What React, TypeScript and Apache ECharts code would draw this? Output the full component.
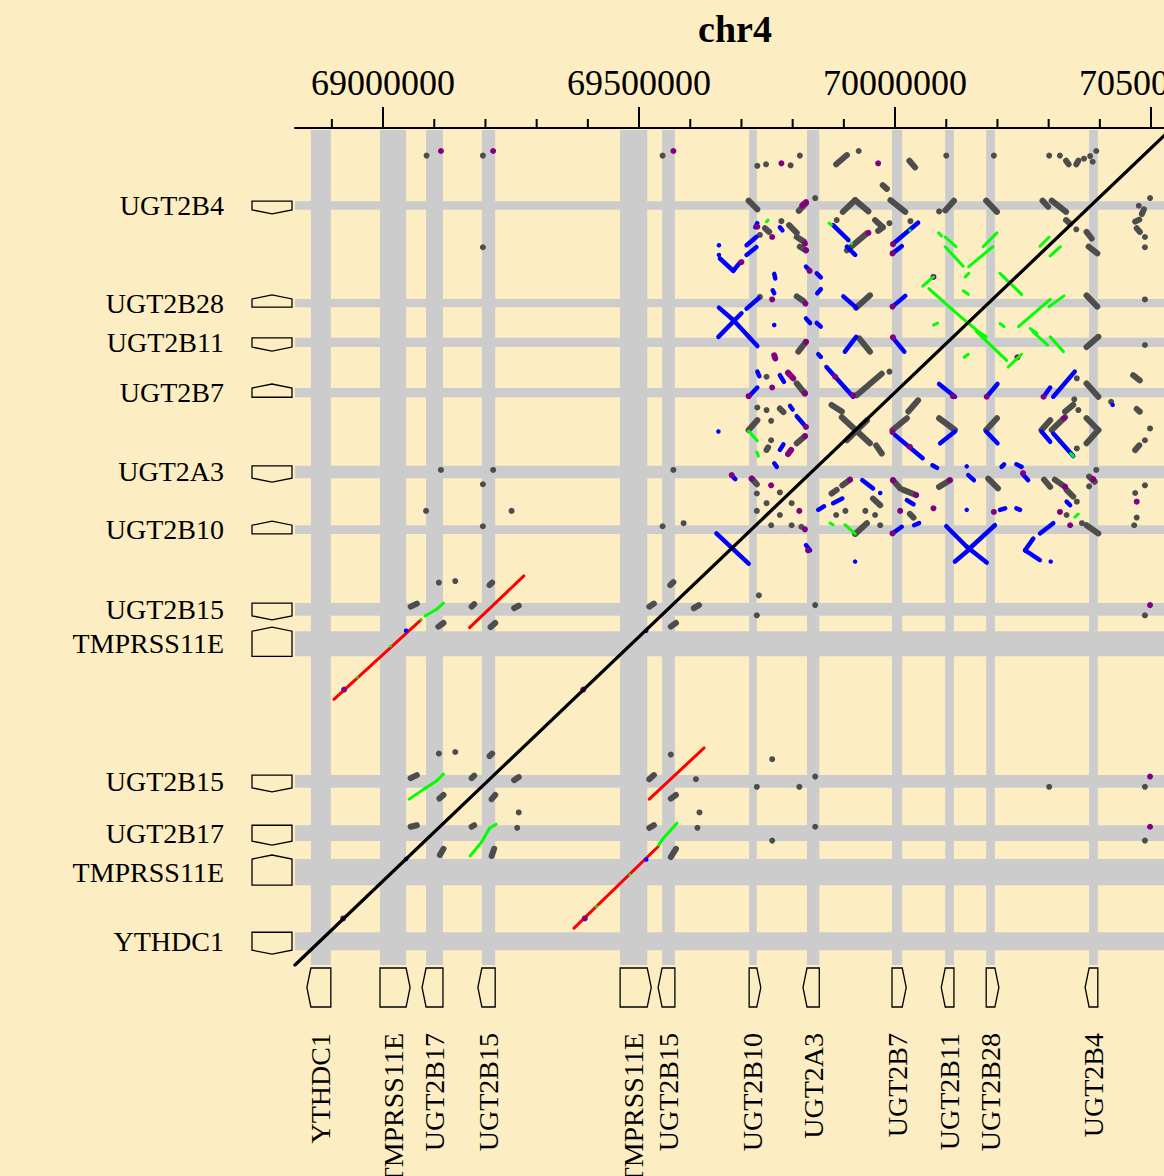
import React, { useEffect, useRef } from "react";
import * as echarts from "echarts";

// ---- axis ranges (kb) ----
const X_MIN = 68828; // chr4 position, kb
const X_MAX = 70537;
const Y_MIN = 0; // query position, kb
const Y_MAX = 1631;

const majorTicks = [69000, 69500, 70000, 70500];
const minorTicks = [68900, 69100, 69200, 69300, 69400, 69600, 69700, 69800, 69900, 70100, 70200, 70300, 70400];

// ---- genes on chr4 (x): name, start kb, end kb, strand ----
const xGenes: [string, number, number, string][] = [
  ["YTHDC1", 68859, 68898, "-"],
  ["TMPRSS11E", 68994, 69045, "+"],
  ["UGT2B17", 69084, 69117, "-"],
  ["UGT2B15", 69193, 69219, "-"],
  ["TMPRSS11E", 69463, 69516, "+"],
  ["UGT2B15", 69545, 69570, "-"],
  ["UGT2B10", 69715, 69730, "+"],
  ["UGT2A3", 69828, 69852, "-"],
  ["UGT2B7", 69994, 70014, "+"],
  ["UGT2B11", 70098, 70115, "-"],
  ["UGT2B28", 70178, 70195, "+"],
  ["UGT2B4", 70379, 70396, "-"],
];

// ---- genes on query (y): name, start kb, end kb, strand ----
const yGenes: [string, number, number, string][] = [
  ["UGT2B4", 1475, 1492, "-"],
  ["UGT2B28", 1285, 1301, "+"],
  ["UGT2B11", 1207, 1225, "-"],
  ["UGT2B7", 1109, 1127, "+"],
  ["UGT2A3", 951, 975, "-"],
  ["UGT2B10", 842, 859, "+"],
  ["UGT2B15", 682, 707, "-"],
  ["TMPRSS11E", 603, 652, "+"],
  ["UGT2B15", 346, 371, "-"],
  ["UGT2B17", 242, 273, "-"],
  ["TMPRSS11E", 156, 207, "+"],
  ["YTHDC1", 29, 64, "-"],
];

const diagonal = [
  [68828, 0],
  [70537, 1631],
];

// ---- alignment marks: [x, y] dots or [x1, y1, x2, y2] runs (kb) ----
const grayMarks: number[][] = [
  [69731, 1561], [69748, 1564], [69796, 1562], [69814, 1581], [69885, 1564, 69906, 1582], [69929, 1590],
  [70028, 1571, 70039, 1558], [70100, 1581], [70193, 1581], [70301, 1581], [70322, 1581],
  [70334, 1571, 70339, 1564], [70354, 1564, 70358, 1571], [70369, 1575], [70381, 1580], [70393, 1590], [70386, 1569],
  [69976, 1523, 69984, 1516],
  [69085, 1581], [69195, 1581], [69546, 1581], [69195, 1402], [69113, 967], [69215, 967], [69195, 939],
  [69084, 887], [69251, 887], [69195, 857], [69546, 857], [69567, 967], [69587, 863],
  [69109, 747], [69141, 750], [69208, 742, 69213, 747], [69054, 700, 69066, 706], [69173, 700, 69178, 705],
  [69256, 697, 69265, 702], [69108, 661, 69118, 668], [69210, 660, 69219, 668], [69520, 700, 69529, 706],
  [69561, 742, 69567, 748], [69607, 697, 69617, 703], [69562, 661, 69572, 668],
  [69109, 413], [69141, 416], [69208, 408, 69213, 413], [69054, 365, 69066, 371], [69173, 365, 69178, 370],
  [69256, 361, 69265, 367], [69110, 325, 69118, 332], [69212, 324, 69219, 332], [69265, 298],
  [69054, 270, 69066, 273], [69173, 270, 69178, 273], [69262, 268], [69111, 215, 69118, 227], [69212, 213, 69217, 227],
  [69562, 411], [69520, 363, 69529, 371], [69611, 363], [69562, 325, 69572, 332], [69618, 298],
  [69520, 268, 69529, 273], [69614, 268], [69562, 211, 69572, 227],
  [69734, 722], [69730, 683], [69844, 703], [70488, 683], [69760, 402], [69730, 348], [69813, 348], [69844, 368],
  [70301, 348], [70488, 348], [69844, 270], [69760, 243], [70488, 243],
  [69714, 1493, 69731, 1476], [69812, 1473, 69826, 1488], [69844, 1498], [69898, 1471, 69922, 1494],
  [69922, 1494, 69948, 1472], [69991, 1494, 70020, 1471], [70086, 1472], [70098, 1474, 70115, 1493],
  [70178, 1493, 70199, 1471], [70288, 1493, 70299, 1481], [70306, 1493, 70334, 1471], [70334, 1455, 70342, 1448],
  [70354, 1437], [70374, 1432, 70384, 1419], [70378, 1403, 70395, 1390],
  [70476, 1483], [70498, 1498], [70486, 1476, 70482, 1467], [70469, 1452, 70477, 1456], [70472, 1439, 70478, 1432],
  [70488, 1422], [70488, 1402], [70488, 1300],
  [69778, 1453], [69746, 1439, 69754, 1432], [69736, 1426], [69793, 1445, 69808, 1430], [69808, 1422, 69822, 1413],
  [69814, 1403, 69826, 1396],
  [69886, 1455], [69906, 1396, 69945, 1429], [69961, 1455, 69976, 1441], [69976, 1441, 69967, 1434], [69989, 1449], [70030, 1453],
  [69736, 1305], [69808, 1306, 69821, 1297], [69924, 1284, 69951, 1308], [70374, 1308, 70395, 1286],
  [69811, 1198, 69826, 1217], [69930, 1224, 69951, 1198], [70374, 1207, 70397, 1227], [70488, 1211],
  [69749, 1149], [69808, 1136, 69824, 1116], [69925, 1113, 69974, 1155], [69989, 1159], [70355, 1146],
  [70374, 1136, 70397, 1110], [70422, 1100], [70465, 1152, 70478, 1142],
  [69731, 1089], [69749, 1084], [69775, 1087, 69782, 1080], [69731, 1064, 69714, 1045], [69758, 1063], [69758, 1025],
  [69749, 1006, 69752, 1011], [69808, 1019, 69824, 1033],
  [69876, 1094, 69896, 1081], [69896, 1070, 69951, 1019], [69906, 1025, 69945, 1064], [69963, 1015, 69974, 999],
  [69995, 1045, 70023, 1068], [70026, 1081, 70045, 1103],
  [70086, 1068, 70117, 1045], [70178, 1045, 70199, 1068], [70286, 1045, 70303, 1064], [70306, 1045, 70332, 1070],
  [70332, 1081, 70348, 1094], [70350, 1105], [70358, 1084], [70374, 1068, 70397, 1045], [70397, 1045, 70374, 1019],
  [70355, 1009], [70472, 1086, 70478, 1081], [70498, 1048], [70488, 1025], [70469, 1006, 70477, 1015],
  [69720, 950, 69730, 939], [69730, 921], [69749, 902], [69730, 887], [69775, 923], [69798, 902], [69775, 879],
  [69758, 859], [69798, 859], [69817, 856],
  [69876, 921, 69886, 928], [69897, 937, 69912, 948], [69903, 887], [69885, 879], [69942, 887], [69961, 879],
  [69971, 859], [69957, 911, 69971, 898], [69922, 842, 69945, 863],
  [69996, 947, 70010, 931], [70016, 928, 70041, 918], [70029, 881, 70036, 874], [70086, 934, 70107, 947],
  [70182, 950, 70201, 931],
  [70291, 948, 70303, 934], [70312, 948, 70332, 934], [70335, 928, 70348, 915], [70355, 905], [70335, 879],
  [70379, 954, 70390, 944], [70393, 967], [70379, 935], [70469, 922], [70488, 937], [70472, 874], [70467, 859],
  [70374, 859, 70397, 843], [70365, 863],
];

const redMarks: number[][] = [
  [68904, 519, 69074, 674],
  [69169, 659, 69275, 760],
  [69520, 324, 69627, 424],
  [69373, 72, 69538, 232],
];

const blueMarks: number[][] = [
  [69045, 653], [69514, 653], [69045, 207], [69514, 206],
  [69731, 1449, 69727, 1441], [69775, 1441, 69780, 1435], [69710, 1406, 69729, 1422], [69710, 1387, 69729, 1402],
  [69656, 1406], [69656, 1387], [69658, 1380, 69684, 1356], [69684, 1356, 69697, 1372], [69879, 1445, 69909, 1416],
  [69906, 1403, 69922, 1387], [69996, 1409, 70045, 1450], [69995, 1390, 70013, 1404],
  [69764, 1350, 69766, 1341], [69761, 1318, 69764, 1312], [69710, 1282, 69733, 1302], [69826, 1364, 69834, 1356],
  [69847, 1351, 69855, 1343], [69848, 1312, 69855, 1320],
  [69656, 1284, 69684, 1260], [69684, 1260, 69731, 1209], [69700, 1273, 69655, 1227], [69764, 1250],
  [69826, 1263, 69834, 1254], [69847, 1254, 69855, 1247], [69899, 1306, 69924, 1284], [69995, 1286, 70020, 1307],
  [69902, 1198, 69924, 1227], [69995, 1226, 70018, 1198],
  [69731, 1159, 69735, 1150], [69775, 1152, 69783, 1139], [69714, 1110, 69731, 1128], [69850, 1193, 69855, 1188],
  [69866, 1168, 69918, 1110], [70086, 1135, 70117, 1110], [70179, 1110, 70200, 1135], [70290, 1110, 70303, 1128],
  [70309, 1110, 70351, 1159], [70425, 1094],
  [69795, 1092, 69800, 1085], [69808, 1072, 69826, 1051], [69775, 1006, 69782, 1017], [69764, 980, 69769, 973],
  [69655, 1042], [70000, 1035, 70054, 990], [70073, 976, 70082, 971], [70117, 1042, 70088, 1019],
  [70178, 1042, 70200, 1019], [70286, 1042, 70303, 1022], [70309, 1038, 70348, 994], [70140, 974],
  [70143, 957, 70154, 947], [70208, 973, 70213, 978], [70237, 978, 70247, 973], [70249, 959, 70260, 947],
  [69683, 954, 69688, 949], [69850, 889, 69861, 896], [69879, 902, 69897, 911], [69936, 947, 69957, 931],
  [69971, 922], [69995, 843, 70013, 856], [70037, 859, 70047, 863], [70023, 908, 70036, 900],
  [70205, 889, 70215, 892], [70237, 892, 70244, 889], [70140, 889], [70335, 905, 70342, 898], [70283, 843, 70309, 863],
  [70100, 857, 70140, 817], [70140, 817, 70179, 786], [70195, 859, 70146, 814], [70143, 810, 70117, 788],
  [70270, 833, 70254, 810], [70254, 810, 70283, 791], [70304, 788], [69651, 843, 69714, 784],
  [69826, 820, 69834, 810], [69922, 788],
];

const purpleMarks: number[][] = [
  [69113, 1590], [69215, 1590], [69567, 1590], [68924, 538], [69394, 91], [69391, 538], [68922, 91],
  [70498, 703], [70498, 368], [70498, 270], [69778, 1566], [69967, 1566],
  [69819, 1484, 69826, 1490], [69731, 1442], [69760, 1422], [69824, 1409], [69826, 1396], [69700, 1373],
  [69948, 1430], [69996, 1408], [69995, 1390], [70075, 1344],
  [69760, 1300], [69825, 1292], [69833, 1356], [69995, 1286], [69826, 1217], [69996, 1226], [70239, 1187],
  [69764, 1191, 69766, 1185], [69791, 1157, 69801, 1146], [69824, 1117], [69760, 1128], [69714, 1111],
  [69883, 1149], [69918, 1113], [70113, 1111], [70179, 1110], [70290, 1110],
  [69826, 1051], [69791, 998, 69797, 1006], [69824, 1033], [69995, 1041], [70029, 1012], [70330, 1068], [70250, 961],
  [69681, 957], [69720, 950], [69758, 937], [69813, 887], [69824, 851], [69912, 948], [69995, 843], [70010, 887],
  [69996, 947], [70041, 918], [70075, 892], [70107, 947], [70193, 885], [70332, 934], [70322, 885], [70387, 949],
  [70472, 905], [70342, 859], [69830, 810],
];

const greenMarks: number[][] = [
  [68949, 562], [69014, 623], [69074, 675], [69082, 682, 69105, 695], [69105, 695, 69118, 707],
  [69417, 114], [69482, 176], [69538, 234, 69547, 247], [69547, 247, 69574, 277],
  [69051, 324, 69082, 345], [69082, 345, 69105, 360], [69105, 360, 69118, 373],
  [69170, 213, 69193, 241], [69193, 241, 69208, 267], [69208, 267, 69221, 275],
  [69749, 1452, 69752, 1455], [69871, 1449, 69876, 1446], [69915, 1409], [70029, 1435],
  [70085, 1430, 70091, 1424], [70098, 1422, 70119, 1403], [70098, 1403, 70133, 1365], [70172, 1403, 70199, 1430],
  [70144, 1364, 70191, 1403], [70137, 1344, 70144, 1351], [70283, 1404, 70301, 1422], [70303, 1385, 70323, 1403],
  [70205, 1351, 70247, 1310], [70133, 1317, 70143, 1310], [70054, 1326, 70075, 1344], [70066, 1321, 70113, 1279],
  [70113, 1279, 70159, 1240], [70075, 1250, 70083, 1254], [70205, 1253, 70213, 1247], [70241, 1247, 70303, 1300],
  [70301, 1286, 70330, 1307], [70264, 1243, 70277, 1234], [70159, 1240, 70178, 1227],
  [70159, 1237, 70218, 1181], [70221, 1168, 70247, 1193], [70135, 1187, 70143, 1193], [70269, 1237, 70298, 1211],
  [70303, 1227, 70329, 1198],
  [69714, 1043, 69731, 1024], [69730, 1002, 69733, 994], [70343, 999, 70348, 994], [69873, 863, 69879, 860],
  [69902, 860, 69922, 842], [70351, 875, 70358, 881],
];

// ---- styles ----
const BG = "#FDEDC3";
const BAND = "#CCCCCC";
const FONT = '"Liberation Serif", "Times New Roman", serif';

function markSeries(name: string, marks: number[][], color: string, width: number) {
  return {
    type: "custom",
    name,
    silent: true,
    xAxisIndex: 0,
    yAxisIndex: 0,
    data: marks.map((d) => (d.length === 2 ? [d[0], d[1], d[0], d[1]] : d)),
    encode: { x: [0, 2], y: [1, 3] },
    renderItem: (params: any, api: any) => {
      const p1 = api.coord([api.value(0), api.value(1)]);
      const p2 = api.coord([api.value(2), api.value(3)]);
      if (api.value(0) === api.value(2) && api.value(1) === api.value(3)) {
        return { type: "circle", shape: { cx: p1[0], cy: p1[1], r: width / 2 }, style: { fill: color } };
      }
      return {
        type: "line",
        shape: { x1: p1[0], y1: p1[1], x2: p2[0], y2: p2[1] },
        style: { stroke: color, lineWidth: width, lineCap: "round", fill: null },
      };
    },
  };
}

export default function App() {
  const ref = useRef<HTMLDivElement>(null);

  useEffect(() => {
    if (!ref.current) return;
    const chart = echarts.init(ref.current, null, { renderer: "svg" });

    const xBandSeries = {
      type: "custom",
      silent: true,
      xAxisIndex: 0,
      yAxisIndex: 0,
      data: xGenes.map((g) => [g[1], g[2]]),
      renderItem: (params: any, api: any) => {
        const a = api.coord([api.value(0), Y_MAX]);
        const b = api.coord([api.value(1), Y_MIN]);
        return { type: "rect", shape: { x: a[0], y: a[1], width: b[0] - a[0], height: b[1] - a[1] }, style: { fill: BAND } };
      },
    };

    const yBandSeries = {
      type: "custom",
      silent: true,
      xAxisIndex: 0,
      yAxisIndex: 0,
      data: yGenes.map((g) => [g[1], g[2]]),
      renderItem: (params: any, api: any) => {
        const a = api.coord([X_MIN, api.value(1)]);
        const b = api.coord([X_MAX, api.value(0)]);
        return { type: "rect", shape: { x: a[0], y: a[1], width: b[0] - a[0], height: b[1] - a[1] }, style: { fill: BAND } };
      },
    };

    // minor ticks of the top axis, placed through the x scale
    const minorTickSeries = {
      type: "custom",
      silent: true,
      xAxisIndex: 0,
      yAxisIndex: 0,
      data: minorTicks.map((t) => [t]),
      renderItem: (params: any, api: any) => {
        const p = api.coord([api.value(0), Y_MAX]);
        return {
          type: "line",
          shape: { x1: p[0], y1: p[1] - 2, x2: p[0], y2: p[1] - 11 },
          style: { stroke: "#000", lineWidth: 2 },
        };
      },
    };

    const xGeneSeries = {
      type: "custom",
      silent: true,
      xAxisIndex: 0,
      yAxisIndex: 0,
      data: xGenes.map((g, i) => [g[1], g[2], i]),
      renderItem: (params: any, api: any) => {
        const g = xGenes[api.value(2)];
        const a = api.coord([api.value(0), Y_MIN]);
        const b = api.coord([api.value(1), Y_MIN]);
        const x0 = a[0];
        const x1 = b[0];
        const y0 = a[1] + 3;
        const y1 = a[1] + 42;
        const ym = (y0 + y1) / 2;
        const tip = 4;
        const pts =
          g[3] === "+"
            ? [[x0, y0], [x1, y0], [x1 + tip, ym], [x1, y1], [x0, y1]]
            : [[x0, y0], [x1, y0], [x1, y1], [x0, y1], [x0 - tip, ym]];
        return {
          type: "group",
          children: [
            { type: "polygon", shape: { points: pts }, style: { fill: BG, stroke: "#000", lineWidth: 1.3 } },
            {
              type: "text",
              x: (x0 + x1) / 2,
              y: a[1] + 68,
              rotation: Math.PI / 2,
              style: { text: g[0], fontSize: 28, fontFamily: FONT, fill: "#000", align: "right", verticalAlign: "middle" },
            },
          ],
        };
      },
    };

    const yGeneSeries = {
      type: "custom",
      silent: true,
      xAxisIndex: 0,
      yAxisIndex: 0,
      data: yGenes.map((g, i) => [g[1], g[2], i]),
      renderItem: (params: any, api: any) => {
        const g = yGenes[api.value(2)];
        const top = api.coord([X_MIN, api.value(1)]);
        const bot = api.coord([X_MIN, api.value(0)]);
        const xL = top[0] - 43;
        const xR = top[0] - 3;
        const xm = (xL + xR) / 2;
        const yt = top[1];
        const yb = bot[1];
        const tip = 4;
        const pts =
          g[3] === "+"
            ? [[xL, yb], [xL, yt], [xm, yt - tip], [xR, yt], [xR, yb]]
            : [[xL, yt], [xR, yt], [xR, yb], [xm, yb + tip], [xL, yb]];
        return {
          type: "group",
          children: [
            { type: "polygon", shape: { points: pts }, style: { fill: BG, stroke: "#000", lineWidth: 1.3 } },
            {
              type: "text",
              x: top[0] - 71,
              y: (yt + yb) / 2,
              style: { text: g[0], fontSize: 28, fontFamily: FONT, fill: "#000", align: "right", verticalAlign: "middle" },
            },
          ],
        };
      },
    };

    const option: any = {
      animation: false,
      backgroundColor: BG,
      grid: { left: 295, top: 130, width: 875, height: 835, containLabel: false, outerBoundsMode: "none" },
      xAxis: {
        type: "value",
        min: X_MIN,
        max: X_MAX,
        position: "top",
        offset: 2,
        axisLine: { show: true, onZero: false, lineStyle: { color: "#000", width: 2 } },
        axisTick: { show: true, customValues: majorTicks, length: 21, lineStyle: { color: "#000", width: 2 } },
        axisLabel: {
          show: true,
          customValues: majorTicks,
          formatter: (v: number) => String(Math.round(v * 1000)),
          fontSize: 36,
          fontFamily: FONT,
          color: "#000",
          margin: 27,
        },
        splitLine: { show: false },
      },
      yAxis: { type: "value", min: Y_MIN, max: Y_MAX, show: false, splitLine: { show: false } },
      graphic: [
        {
          type: "text",
          x: 735,
          y: 29,
          style: { text: "chr4", fontSize: 38, fontWeight: "bold", fontFamily: FONT, fill: "#000", align: "center", verticalAlign: "middle" },
        },
      ],
      series: [
        xBandSeries,
        yBandSeries,
        minorTickSeries,
        xGeneSeries,
        yGeneSeries,
        markSeries("gray", grayMarks, "#4D4D4D", 6),
        markSeries("red", redMarks, "#FF0000", 3),
        markSeries("blue", blueMarks, "#0000FF", 4.5),
        markSeries("purple", purpleMarks, "#800080", 6),
        markSeries("green", greenMarks, "#00FF00", 3),
        {
          type: "line",
          silent: true,
          data: diagonal,
          symbol: "none",
          lineStyle: { color: "#000", width: 3.3, cap: "round" },
        },
      ],
    };

    chart.setOption(option);
    return () => chart.dispose();
  }, []);

  return (
    <div style={{ position: "fixed", left: 0, top: 0, width: 1164, height: 1176, background: BG, overflow: "hidden" }}>
      <div ref={ref} style={{ width: 1164, height: 1176 }} />
    </div>
  );
}
